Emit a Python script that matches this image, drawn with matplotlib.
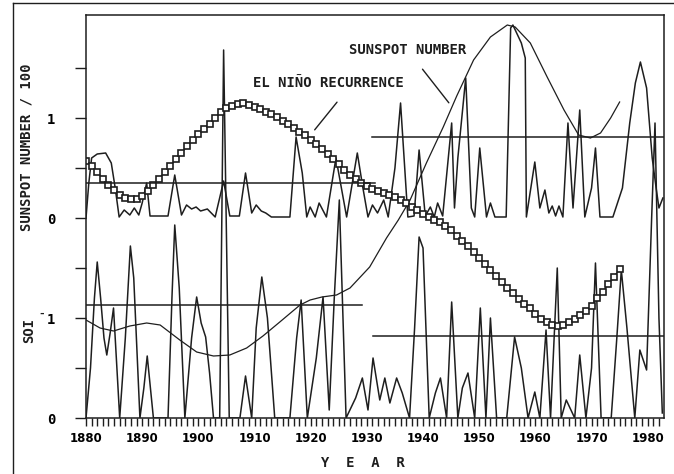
import numpy as np
import matplotlib
matplotlib.use("Agg")
import matplotlib.pyplot as plt
from matplotlib.ticker import MultipleLocator, FixedLocator

# ---- datos (escala unica: SOI 0..2, manchas solares 2..4) ----
# serie superior: numero de manchas solares / 100 (linea base en 2)
sun_years = [1880.0, 1880.5, 1881.0, 1882.0, 1883.5, 1884.5, 1885.2, 1885.9, 1886.8, 1887.8,
             1888.6, 1889.4, 1890.0, 1890.8, 1891.4, 1894.6, 1895.8, 1897.0, 1897.9, 1898.8,
             1899.6, 1900.4, 1901.6, 1903.0, 1904.5, 1905.6, 1907.3, 1908.4, 1909.5, 1910.3,
             1911.2, 1912.0, 1913.0, 1916.3, 1917.4, 1918.5, 1919.3, 1919.9, 1920.8, 1921.5,
             1922.8, 1924.5, 1926.4, 1928.3, 1929.3, 1930.2, 1931.0, 1931.9, 1933.0, 1933.8,
             1935.0, 1936.0, 1937.3, 1938.4, 1939.3, 1940.4, 1941.3, 1942.0, 1942.6, 1943.5,
             1945.1, 1945.6, 1946.2, 1947.6, 1948.6, 1949.2, 1950.1, 1951.3, 1952.0, 1952.8,
             1954.8, 1955.6, 1956.0, 1957.5, 1958.2, 1958.4, 1959.9, 1960.8, 1961.7, 1962.4,
             1963.0, 1963.6, 1964.2, 1964.9, 1965.8, 1966.7, 1967.9, 1968.8, 1970.0, 1970.7,
             1971.5, 1973.8, 1975.5, 1976.8, 1977.8, 1978.7, 1979.8, 1980.8, 1981.5, 1982.0,
             1982.7]
sun_vals = [2.00, 2.35, 2.60, 2.64, 2.65, 2.55, 2.30, 2.01, 2.08, 2.03,
            2.10, 2.03, 2.15, 2.35, 2.02, 2.02, 2.43, 2.03, 2.13, 2.09,
            2.11, 2.07, 2.09, 2.01, 2.37, 2.02, 2.02, 2.45, 2.05, 2.13,
            2.07, 2.05, 2.01, 2.01, 2.81, 2.45, 2.01, 2.11, 2.01, 2.15,
            2.01, 2.60, 2.01, 2.65, 2.30, 2.01, 2.13, 2.05, 2.18, 2.01,
            2.50, 3.15, 2.01, 2.02, 2.68, 2.02, 2.11, 2.01, 2.15, 2.02,
            2.95, 2.10, 2.60, 3.40, 2.10, 2.01, 2.70, 2.01, 2.15, 2.01,
            2.01, 3.90, 3.93, 3.75, 3.60, 2.01, 2.56, 2.10, 2.28, 2.05,
            2.12, 2.02, 2.12, 2.01, 2.95, 2.10, 3.08, 2.01, 2.30, 2.70,
            2.01, 2.01, 2.30, 2.95, 3.35, 3.56, 3.30, 2.60, 2.30, 2.10,
            2.20]

# serie inferior: SOI^-1 (linea base en 0)
soi_years = [1880.0, 1880.8, 1881.5, 1882.0, 1882.6, 1883.2, 1883.7, 1884.3, 1884.9, 1885.4,
             1886.0, 1887.0, 1887.9, 1888.5, 1889.6, 1890.3, 1890.9, 1892.0, 1894.6, 1895.3,
             1895.8, 1896.6, 1897.6, 1898.8, 1899.7, 1900.5, 1901.3, 1902.0, 1902.7, 1903.8,
             1904.5, 1905.5, 1907.4, 1908.4, 1909.5, 1910.3, 1911.3, 1912.3, 1913.6, 1916.3,
             1917.5, 1918.3, 1919.4, 1921.0, 1922.2, 1923.3, 1924.2, 1925.1, 1926.3, 1928.0,
             1929.2, 1930.2, 1931.1, 1932.3, 1933.2, 1934.1, 1935.3, 1936.3, 1937.6, 1938.5,
             1939.3, 1940.0, 1941.1, 1942.2, 1943.1, 1944.2, 1945.1, 1946.2, 1947.0, 1948.0,
             1949.2, 1950.2, 1951.2, 1952.0, 1953.1, 1954.9, 1956.3, 1957.5, 1958.7, 1959.9,
             1960.8, 1961.9, 1962.7, 1963.9, 1964.6, 1965.5, 1967.0, 1967.9, 1969.0, 1970.0,
             1970.7, 1971.7, 1973.5, 1974.5, 1975.3, 1976.3, 1977.7, 1978.6, 1979.8, 1980.7,
             1981.3, 1982.0, 1982.6]
soi_vals = [0.00, 0.50, 1.20, 1.56, 1.20, 0.80, 0.63, 0.85, 1.10, 0.60,
            0.00, 0.80, 1.72, 1.40, 0.00, 0.30, 0.62, 0.00, 0.00, 1.20,
            1.93, 1.30, 0.00, 0.80, 1.21, 0.95, 0.81, 0.45, 0.00, 0.00,
            3.68, 0.00, 0.00, 0.42, 0.00, 0.90, 1.41, 1.00, 0.00, 0.00,
            0.80, 1.18, 0.00, 0.60, 1.21, 0.08, 1.20, 2.18, 0.00, 0.20,
            0.40, 0.08, 0.60, 0.18, 0.40, 0.15, 0.40, 0.25, 0.00, 0.90,
            1.81, 1.70, 0.00, 0.25, 0.40, 0.00, 1.16, 0.00, 0.30, 0.45,
            0.00, 1.10, 0.00, 1.00, 0.00, 0.00, 0.81, 0.50, 0.00, 0.26,
            0.00, 0.88, 0.00, 1.50, 0.00, 0.18, 0.00, 0.63, 0.00, 0.50,
            1.55, 0.00, 0.00, 0.80, 1.48, 0.90, 0.00, 0.68, 0.48, 2.00,
            2.95, 1.00, 0.05]

# curva suave "SUNSPOT NUMBER"
smooth_years = [1880.0, 1882.5, 1884.9, 1887.8, 1890.8, 1893.2, 1896.7, 1899.7, 1902.7, 1905.6,
                1908.6, 1911.5, 1914.5, 1918.1, 1919.9, 1922.0, 1924.6, 1927.0, 1930.5, 1933.5,
                1935.6, 1937.7, 1940.6, 1943.6, 1946.0, 1949.0, 1952.0, 1955.0, 1956.4, 1959.1,
                1962.1, 1965.1, 1967.7, 1969.8, 1971.6, 1973.4, 1975.0]
smooth_vals = [0.98, 0.90, 0.87, 0.92, 0.95, 0.93, 0.78, 0.66, 0.62, 0.63,
               0.70, 0.82, 0.96, 1.13, 1.18, 1.21, 1.23, 1.30, 1.51, 1.80,
               1.98, 2.18, 2.55, 2.91, 3.22, 3.58, 3.81, 3.93, 3.91, 3.75,
               3.41, 3.08, 2.83, 2.80, 2.85, 3.00, 3.16]

# recurrencia de El Nino (un punto por anio)
nino_years = list(range(1880, 1976))
nino_vals = [2.57, 2.52, 2.46, 2.39, 2.33, 2.28, 2.23, 2.20, 2.19, 2.19,
             2.22, 2.27, 2.33, 2.39, 2.46, 2.52, 2.59, 2.65, 2.72, 2.78,
             2.84, 2.89, 2.94, 3.00, 3.06, 3.10, 3.12, 3.14, 3.15, 3.13,
             3.11, 3.09, 3.06, 3.04, 3.01, 2.97, 2.94, 2.90, 2.86, 2.83,
             2.78, 2.74, 2.69, 2.64, 2.59, 2.54, 2.48, 2.43, 2.39, 2.35,
             2.32, 2.29, 2.27, 2.25, 2.23, 2.21, 2.18, 2.15, 2.11, 2.08,
             2.04, 2.01, 1.98, 1.96, 1.92, 1.88, 1.82, 1.77, 1.72, 1.66,
             1.60, 1.54, 1.48, 1.42, 1.36, 1.30, 1.25, 1.19, 1.14, 1.10,
             1.04, 0.99, 0.96, 0.93, 0.92, 0.93, 0.96, 0.99, 1.03, 1.07,
             1.12, 1.20, 1.26, 1.34, 1.41, 1.49]

# niveles medios (horizontales): (nivel, anio inicio, anio fin)
mean_levels = [(2.35, 1880.0, 1931.5), (2.81, 1931.0, 1983.0),
               (1.13, 1880.0, 1929.1), (0.82, 1931.1, 1983.0)]

ytick_pos = [0, 0.5, 1, 1.5, 2, 2.5, 3, 3.5]
ytick_lab = ["0", "", "1", "", "0", "", "1", ""]

INK = "#1e1e1e"
MONO = "DejaVu Sans Mono"

fig = plt.figure(figsize=(6.74, 4.74), dpi=100)
ax = fig.add_axes([86/674, 1 - 418/474, 578/674, 403/474])

ax.plot(soi_years, soi_vals, color=INK, lw=1.1)
ax.plot(sun_years, sun_vals, color=INK, lw=1.1)
ax.plot(smooth_years, smooth_vals, color=INK, lw=0.9)
ax.plot(nino_years, nino_vals, color=INK, lw=1.0, marker="s", ms=5,
        mfc="white", mec=INK, mew=1.2)

for lev, x0, x1 in mean_levels:
    ax.plot([x0, x1], [lev, lev], color=INK, lw=1.1)

ax.set_xlim(1880, 1982.9)
ax.set_ylim(0, 4.03)

ax.xaxis.set_major_locator(MultipleLocator(10))
ax.xaxis.set_minor_locator(MultipleLocator(1))
ax.tick_params(axis="x", which="both", direction="out", length=6, width=1.0,
               color=INK, labelsize=8.5, pad=4)
ax.yaxis.set_major_locator(FixedLocator(ytick_pos))
ax.set_yticklabels(ytick_lab, family=MONO, fontweight="bold", fontsize=10)
ax.tick_params(axis="y", direction="out", length=8, width=1.0, color=INK, pad=14)
for lab in ax.get_xticklabels():
    lab.set_fontweight("bold")
for s in ax.spines.values():
    s.set_color(INK)
    s.set_linewidth(1.1)

# textos
ax.text(1923.2, 3.35, "EL NIÑO RECURRENCE", family=MONO, fontweight="bold",
        fontsize=10, ha="center", va="center", color=INK)
ax.annotate("", xy=(1920.4, 2.86), xytext=(1925.0, 3.18),
            arrowprops=dict(arrowstyle="-", color=INK, lw=1.0))
ax.text(1937.3, 3.68, "SUNSPOT NUMBER", family=MONO, fontweight="bold",
        fontsize=10, ha="center", va="center", color=INK)
ax.annotate("", xy=(1944.9, 3.13), xytext=(1939.6, 3.51),
            arrowprops=dict(arrowstyle="-", color=INK, lw=1.0))

fig.text(27/674, 1 - 147/474, "SUNSPOT NUMBER / 100", rotation=90, family=MONO,
         fontweight="bold", fontsize=10, ha="center", va="center", color=INK)
fig.text(29/674, 1 - 330/474, "SOI", rotation=90, family=MONO,
         fontweight="bold", fontsize=10, ha="center", va="center", color=INK)
fig.text(42/674, 1 - 314/474, "-", family=MONO, fontweight="bold",
         fontsize=8, ha="center", va="center", color=INK)
fig.text(363/674, 1 - 463/474, "Y  E  A  R", family=MONO, fontweight="bold",
         fontsize=10, ha="center", va="center", color=INK)

# marco exterior del escaneo
fig.add_artist(plt.Line2D([13/674, 13/674], [0, 1 - 3/474], color=INK, lw=1.0))
fig.add_artist(plt.Line2D([13/674, 1], [1 - 3/474, 1 - 3/474], color=INK, lw=1.0))

fig.savefig("out.png", dpi=100)
